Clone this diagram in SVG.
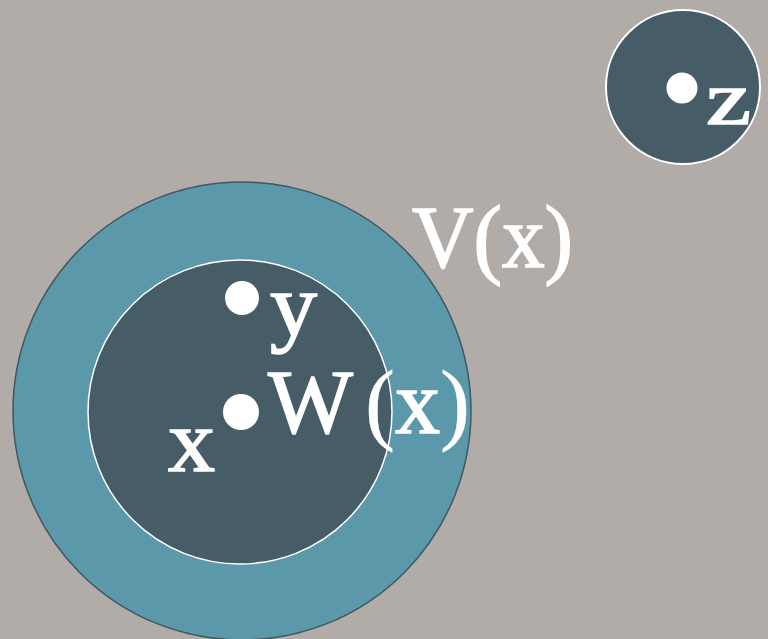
<svg xmlns="http://www.w3.org/2000/svg" width="768" height="639" viewBox="0 0 768 639">
  <style>
    .lbl { font-family: "Liberation Serif", "DejaVu Serif", serif; fill: #ffffff; stroke: #ffffff; stroke-width: 1.6; }
    .paren { stroke-width: 0.4; }
    .dot { fill: #ffffff; }
  </style>
  <rect x="0" y="0" width="768" height="639" fill="#b1aca8"/>
  <g id="V">
    <circle cx="242" cy="411" r="229" fill="#5a98aa" stroke="#3f5862" stroke-width="1.5"/>
    <text class="lbl" x="412" y="267" font-size="88" textLength="161" lengthAdjust="spacingAndGlyphs">V(x)</text>
  </g>
  <g id="W">
    <circle cx="240" cy="412" r="152" fill="#465c66" stroke="#ffffff" stroke-width="1.5"/>
    <text class="lbl" x="268" y="433" font-size="90">W<tspan class="paren" dx="12">(</tspan>x<tspan class="paren">)</tspan></text>
  </g>
  <g id="x">
    <circle class="dot" cx="241" cy="412" r="18"/>
    <text class="lbl" x="168" y="471" font-size="88" textLength="47" lengthAdjust="spacingAndGlyphs">x</text>
  </g>
  <g id="y">
    <circle class="dot" cx="242" cy="298" r="17"/>
    <text class="lbl" x="270" y="335" font-size="88" textLength="47" lengthAdjust="spacingAndGlyphs">y</text>
  </g>
  <g id="Z">
    <circle cx="683" cy="87" r="77" fill="#465c66" stroke="#ffffff" stroke-width="2"/>
    <circle class="dot" cx="682" cy="88" r="15.5"/>
    <text class="lbl" x="706" y="124" font-size="76" textLength="45" lengthAdjust="spacingAndGlyphs">z</text>
  </g>
  <g id="connectors"/>
</svg>
